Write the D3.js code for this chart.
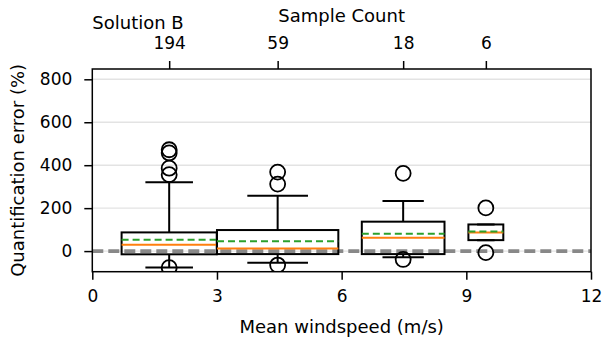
<!DOCTYPE html>
<html><head><meta charset="utf-8">
<script src="https://cdn.jsdelivr.net/npm/d3@7"></script>
<style>html,body{margin:0;padding:0;background:#fff;}svg{display:block;font-family:"DejaVu Sans",sans-serif;}</style>
</head><body>
<script>
const windCenters = [1.85, 4.46, 7.48, 9.47];
const binWidths = [2.29, 2.92, 1.99, 0.84];
const sampleCounts = [194, 59, 18, 6];
const q1 = [-15, -14, -14, 51];
const median = [30, 12, 62, 87];
const mean = [53, 46, 81, 91];
const q3 = [87, 98, 137, 124];
const whiskerLow = [-76, -54, -29, 51];
const whiskerHigh = [320, 258, 233, 124];
const outliers = [[472, 457, 386, 356, -77], [368, 312, -65], [362, -39], [201, -7]];
const xTicks = [0, 3, 6, 9, 12];
const yTicks = [0, 200, 400, 600, 800];

const W = 602, H = 338;
const m = {left: 92.3, right: 11, top: 69, bottom: 66.3};
const svg = d3.select("body").append("svg").attr("width", W).attr("height", H);
const x = d3.scaleLinear().domain([0, 12]).range([m.left, W - m.right]);
const y = d3.scaleLinear().domain([-96, 848]).range([H - m.bottom, m.top]);

svg.append("defs").append("clipPath").attr("id", "clip")
  .append("rect").attr("x", m.left).attr("y", m.top)
  .attr("width", W - m.right - m.left).attr("height", H - m.bottom - m.top);

// grid
svg.append("g").selectAll("line").data(yTicks).join("line")
  .attr("x1", m.left).attr("x2", W - m.right)
  .attr("y1", d => y(d)).attr("y2", d => y(d))
  .attr("stroke", "#e3e3e3").attr("stroke-width", 1.4);

const plot = svg.append("g").attr("clip-path", "url(#clip)");

// zero line
plot.append("line").attr("x1", m.left).attr("x2", W - m.right)
  .attr("y1", y(0)).attr("y2", y(0))
  .attr("stroke", "#888").attr("stroke-width", 3.6).attr("stroke-dasharray", "11,5");

const data = windCenters.map((c, i) => ({c, w: binWidths[i], q1: q1[i], med: median[i], mean: mean[i], q3: q3[i], lo: whiskerLow[i], hi: whiskerHigh[i], out: outliers[i]}));
const lw = 2;
data.forEach(d => {
  const g = plot.append("g");
  const xl = x(d.c - d.w / 2), xr = x(d.c + d.w / 2), xc = x(d.c);
  const cl = x(d.c - d.w / 4), cr = x(d.c + d.w / 4);
  g.append("line").attr("x1", xc).attr("x2", xc).attr("y1", y(d.q3)).attr("y2", y(d.hi)).attr("stroke", "#000").attr("stroke-width", lw);
  g.append("line").attr("x1", xc).attr("x2", xc).attr("y1", y(d.q1)).attr("y2", y(d.lo)).attr("stroke", "#000").attr("stroke-width", lw);
  g.append("line").attr("x1", cl).attr("x2", cr).attr("y1", y(d.hi)).attr("y2", y(d.hi)).attr("stroke", "#000").attr("stroke-width", lw);
  g.append("line").attr("x1", cl).attr("x2", cr).attr("y1", y(d.lo)).attr("y2", y(d.lo)).attr("stroke", "#000").attr("stroke-width", lw);
  g.append("rect").attr("x", xl).attr("y", y(d.q3)).attr("width", xr - xl).attr("height", y(d.q1) - y(d.q3))
    .attr("fill", "none").attr("stroke", "#000").attr("stroke-width", lw);
  g.append("line").attr("x1", xl).attr("x2", xr).attr("y1", y(d.med)).attr("y2", y(d.med)).attr("stroke", "#ff7f0e").attr("stroke-width", 2);
  g.append("line").attr("x1", xl).attr("x2", xr).attr("y1", y(d.mean)).attr("y2", y(d.mean)).attr("stroke", "#2ca02c").attr("stroke-width", 2).attr("stroke-dasharray", "7,4");
  g.selectAll("circle").data(d.out).join("circle")
    .attr("cx", xc).attr("cy", v => y(v)).attr("r", 7.5)
    .attr("fill", "none").attr("stroke", "#000").attr("stroke-width", 1.8);
});

// frame
svg.append("rect").attr("x", m.left).attr("y", m.top).attr("width", W - m.right - m.left).attr("height", H - m.bottom - m.top)
  .attr("fill", "none").attr("stroke", "#000").attr("stroke-width", 1.5);

// axes
const fs = 17;
const ax = svg.append("g").attr("transform", `translate(0,${H - m.bottom})`)
  .call(d3.axisBottom(x).tickValues(xTicks).tickSize(8).tickPadding(10).tickFormat(d3.format("d")));
const ay = svg.append("g").attr("transform", `translate(${m.left},0)`)
  .call(d3.axisLeft(y).tickValues(yTicks).tickSize(8).tickPadding(12).tickFormat(d3.format("d")));
const at = svg.append("g").attr("transform", `translate(0,${m.top})`)
  .call(d3.axisTop(x).tickValues(windCenters).tickSize(8).tickPadding(12).tickFormat((d, i) => sampleCounts[i]));
[ax, ay, at].forEach(a => {
  a.select(".domain").remove();
  a.selectAll(".tick line").attr("stroke", "#000").attr("stroke-width", 1.5);
  a.selectAll(".tick text").attr("fill", "#000").attr("font-size", fs).attr("font-family", "DejaVu Sans");
});

const lfs = 18;
svg.append("text").attr("x", (m.left + W - m.right) / 2).attr("y", 333).attr("text-anchor", "middle")
  .attr("font-size", lfs).text("Mean windspeed (m/s)");
svg.append("text").attr("transform", `translate(24,${(m.top + H - m.bottom) / 2}) rotate(-90)`).attr("text-anchor", "middle")
  .attr("font-size", lfs).text("Quantification error (%)");
svg.append("text").attr("x", (m.left + W - m.right) / 2).attr("y", 22).attr("text-anchor", "middle")
  .attr("font-size", lfs).text("Sample Count");
svg.append("text").attr("x", m.left).attr("y", 29).attr("text-anchor", "start")
  .attr("font-size", lfs).text("Solution B");
</script>
</body></html>
